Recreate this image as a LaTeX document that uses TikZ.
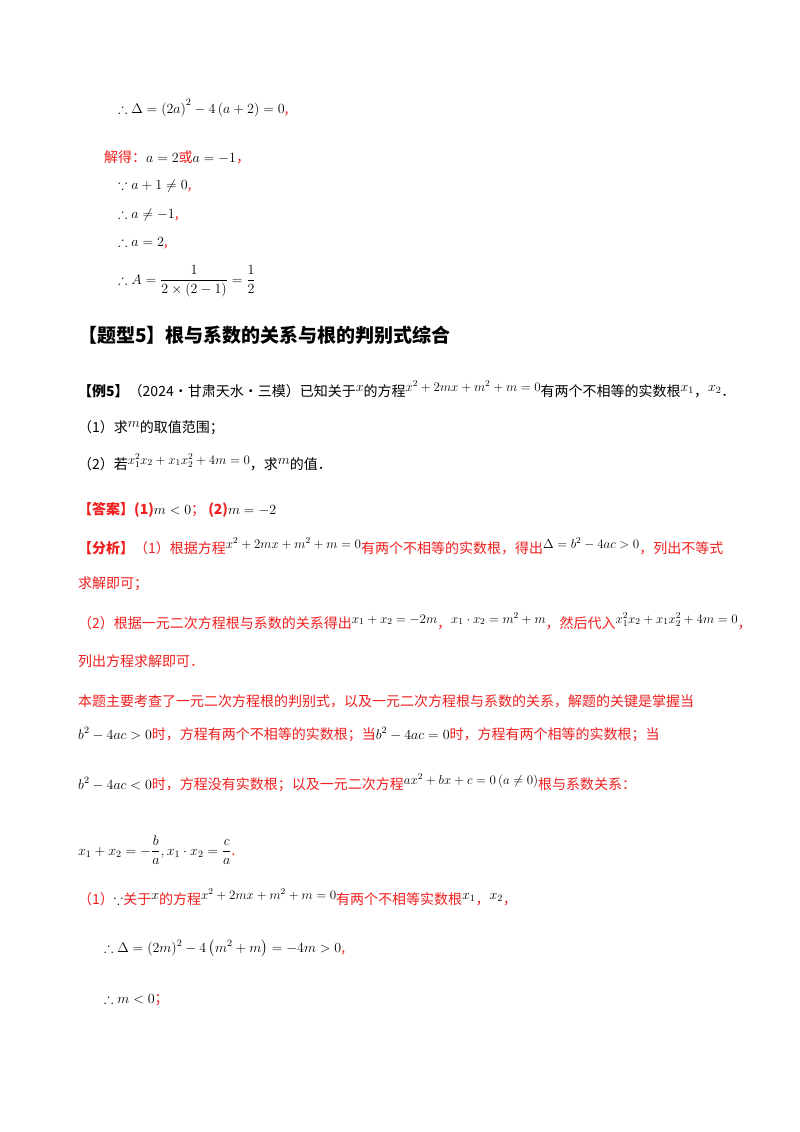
\documentclass[tikz,border=0pt]{standalone}
\usepackage{fix-cm}
\usepackage{amsmath,amssymb}
\usepackage{fontspec}
\newfontfamily\cjk{Noto Sans CJK SC}
\definecolor{ans}{RGB}{240,30,30}
\tikzset{t/.style={anchor=base west,inner sep=0pt,font=\fontsize{14}{16}\selectfont\cjk},
 r/.style={t,text=ans}}
\newcommand{\up}[1]{\raisebox{5pt}{$#1$}}
\newcommand{\ups}[1]{\raisebox{5pt}{\fontsize{13}{15}\selectfont$#1$}}
\begin{document}
\begin{tikzpicture}[x=1pt,y=-1pt]
\useasboundingbox (0,0) rectangle (800,1132);
\node[t] (l1) at (118,113) {$\therefore\Delta=\left(2a\right)^{2}-4\left(a+2\right)=0$\textcolor{ans}{,}};
\node[r] (l2) at (104,162) {解得：\textcolor{black}{$a=2$}或\textcolor{black}{$a=-1$}，};
\node[t] (l3) at (118,189) {$\because a+1\neq0$\textcolor{ans}{,}};
\node[t] (l4) at (118,218) {$\therefore a\neq-1$\textcolor{ans}{,}};
\node[t] (l5) at (118,246) {$\therefore a=2$\textcolor{ans}{,}};
\node[t] (l6) at (118,284) {$\therefore A=\dfrac{1}{2\times\left(2-1\right)}=\dfrac{1}{2}$};
\node[t,font=\fontsize{19}{22}\selectfont\cjk\bfseries] (h) at (78,342) {【题型5】根与系数的关系与根的判别式综合};
\node[t] (e1) at (78,396) {\textbf{【例5】}（2024·甘肃天水·三模）已知关于\up{x}的方程\ups{x^2+2mx+m^2+m=0}有两个不相等的实数根\up{x_1}，\up{x_2}．};
\node[t] (e2) at (78,432) {（1）求\up{m}的取值范围；};
\node[t] (e3) at (78,469) {（2）若\ups{x_1^2x_2+x_1x_2^2+4m=0}，求\up{m}的值．};
\node[r] (a1) at (78,514) {\textbf{【答案】(1)}\textcolor{black}{$m<0$}；\ \textbf{(2)}\textcolor{black}{$m=-2$}};
\node[r] (f1) at (78,553) {\textbf{【分析】}（1）根据方程\ups{\color{black}x^2+2mx+m^2+m=0}有两个不相等的实数根，得出\ups{\color{black}\Delta=b^2-4ac>0}，列出不等式};
\node[r] (f2) at (78,588) {求解即可；};
\node[r] (f3) at (78,628) {（2）根据一元二次方程根与系数的关系得出\ups{\color{black}x_1+x_2=-2m}，\ups{\color{black}x_1\cdot x_2=m^2+m}，然后代入\ups{\color{black}x_1^2x_2+x_1x_2^2+4m=0}，};
\node[r] (f4) at (78,666) {列出方程求解即可．};
\node[r] (f5) at (78,706) {本题主要考查了一元二次方程根的判别式，以及一元二次方程根与系数的关系，解题的关键是掌握当};
\node[r] (f6) at (78,739) {\textcolor{black}{$b^2-4ac>0$}时，方程有两个不相等的实数根；当\textcolor{black}{$b^2-4ac=0$}时，方程有两个相等的实数根；当};
\node[r] (f7) at (78,789) {\textcolor{black}{$b^2-4ac<0$}时，方程没有实数根；以及一元二次方程\ups{\color{black}ax^2+bx+c=0\left(a\neq0\right)}根与系数关系：};
\node[t] (f8) at (78,855) {$x_1+x_2=-\dfrac{b}{a},x_1\cdot x_2=\dfrac{c}{a}$\textcolor{ans}{.}};
\node[r] (s1) at (78,904) {（1）\textcolor{black}{$\because$}关于\up{\color{black}x}的方程\ups{\color{black}x^2+2mx+m^2+m=0}有两个不相等实数根\up{\color{black}x_1}，\up{\color{black}x_2}，};
\node[t] (s2) at (104,952) {$\therefore\Delta=(2m)^2-4\left(m^2+m\right)=-4m>0$\textcolor{ans}{,}};
\node[t] (s3) at (104,1003) {$\therefore m<0$\textcolor{ans}{；}};
\end{tikzpicture}
\end{document}
